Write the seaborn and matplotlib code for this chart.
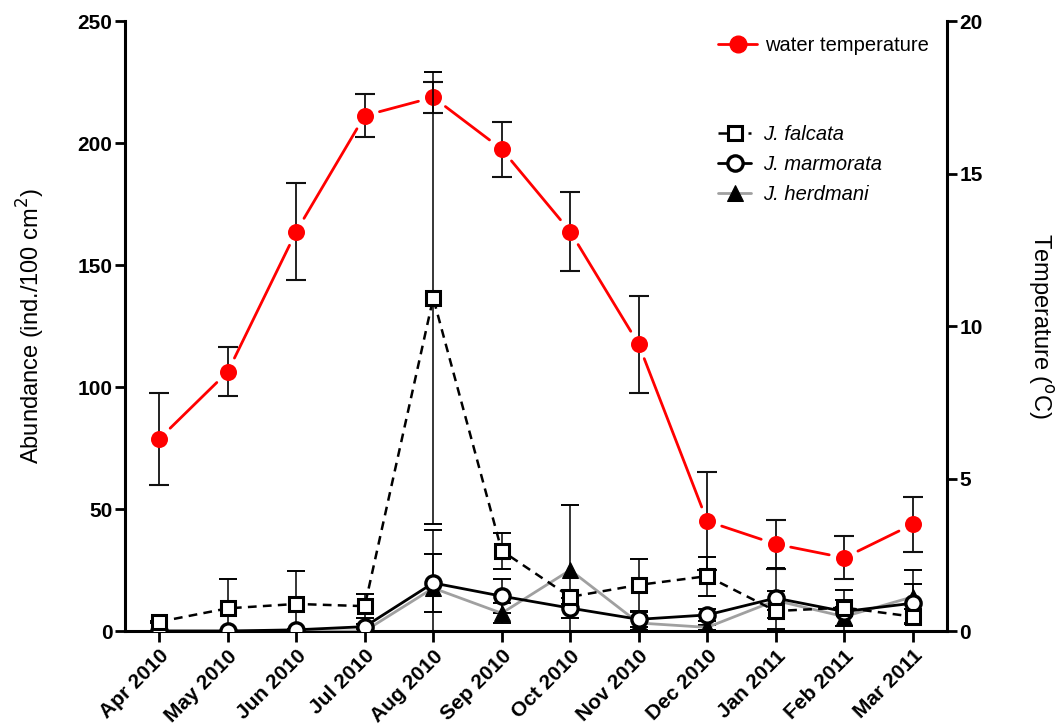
import numpy as np
import matplotlib
matplotlib.use("Agg")
import matplotlib.pyplot as plt
import seaborn as sns
import pandas as pd

# months sampled
months = ["Apr 2010", "May 2010", "Jun 2010", "Jul 2010", "Aug 2010", "Sep 2010",
          "Oct 2010", "Nov 2010", "Dec 2010", "Jan 2011", "Feb 2011", "Mar 2011"]

# water temperature (deg C) and SD
temp = [6.3, 8.5, 13.1, 16.9, 17.5, 15.8, 13.1, 9.4, 3.6, 2.85, 2.4, 3.5]
temp_sd = [1.5, 0.8, 1.6, 0.7, 0.5, 0.9, 1.3, 1.6, 1.6, 0.8, 0.7, 0.9]

# abundances (ind./100 cm2) and SD
falcata = [3.8, 9.3, 11.1, 10.2, 136.5, 32.9, 14.0, 18.9, 22.5, 8.2, 9.6, 5.9]
falcata_sd = [0.5, 12.0, 13.6, 5.0, 92.5, 7.3, 3.0, 10.8, 8.0, 3.0, 3.0, 3.0]
marmorata = [0.0, 0.0, 0.5, 1.8, 19.7, 14.3, 9.4, 4.8, 6.6, 13.5, 8.0, 11.4]
marmorata_sd = [0.0, 0.0, 0.5, 1.0, 11.7, 7.0, 4.0, 3.0, 2.5, 12.5, 9.0, 8.0]
herdmani = [0.0, 0.0, 0.0, 0.0, 17.6, 7.3, 25.0, 3.3, 1.5, 12.5, 5.9, 14.0]
herdmani_sd = [0.0, 0.0, 0.0, 0.0, 24.0, 4.0, 26.6, 3.0, 1.0, 4.0, 4.0, 11.0]

sns.set_style("ticks", {'axes.edgecolor': 'black', 'xtick.color': 'black',
                        'ytick.color': 'black', 'text.color': 'black',
                        'axes.labelcolor': 'black'})
plt.rcParams['font.family'] = ['Liberation Sans', 'DejaVu Sans']

x = np.arange(len(months))
df = pd.DataFrame({'x': x, 'temp': temp, 'falcata': falcata,
                   'marmorata': marmorata, 'herdmani': herdmani})

fig = plt.figure(figsize=(10.61, 7.27), dpi=100)
ax = fig.add_axes([0.1178, 0.132, 0.7747, 0.839])
ax2 = ax.twinx()

# species on left axis
err_kw = dict(fmt='none', ecolor='black', elinewidth=1.1, capsize=6.5, capthick=1.4)
ax.errorbar(x, falcata, yerr=falcata_sd, zorder=2, **err_kw)
ax.errorbar(x, marmorata, yerr=marmorata_sd, zorder=2, **err_kw)
ax.errorbar(x, herdmani, yerr=herdmani_sd, zorder=2, **err_kw)

sns.lineplot(data=df, x='x', y='herdmani', ax=ax, color='#a0a0a0', lw=2,
             marker='^', markersize=11, markerfacecolor='black', markeredgecolor='black',
             label='J. herdmani', zorder=3)
sns.lineplot(data=df, x='x', y='marmorata', ax=ax, color='black', lw=2,
             marker='o', markersize=11, markerfacecolor='white', markeredgecolor='black',
             markeredgewidth=2.4, label='J. marmorata', zorder=4)
sns.lineplot(data=df, x='x', y='falcata', ax=ax, color='black', lw=1.8,
             dashes=(3.5, 2.5), marker='s', markersize=10.5, markerfacecolor='white',
             markeredgecolor='black', markeredgewidth=2.2, label='J. falcata', zorder=5)

# temperature on right axis: segments stop short of each dot
for i in range(len(x) - 1):
    ax2.annotate('', xy=(x[i + 1], temp[i + 1]), xytext=(x[i], temp[i]),
                 arrowprops=dict(arrowstyle='-', color='red', lw=2,
                                 shrinkA=11, shrinkB=11), zorder=2)
ax2.errorbar(x, temp, yerr=temp_sd, fmt='none', ecolor='#111111', elinewidth=1.3,
             capsize=7, capthick=1.5, zorder=4)
sns.scatterplot(data=df, x='x', y='temp', ax=ax2, color='red', s=150,
                edgecolor='red', linewidth=0, zorder=5)
h_temp, = ax2.plot([], [], color='red', lw=2, marker='o', ms=12, label='water temperature')

ax.set_xlim(-0.5, 11.5)
ax.set_ylim(0, 250)
ax2.set_ylim(0, 20)
ax.set_yticks([0, 50, 100, 150, 200, 250])
ax2.set_yticks([0, 5, 10, 15, 20])
ax.set_xticks(x)
ax.set_xticklabels(months, rotation=45, ha='right', rotation_mode='anchor',
                   fontsize=15, fontweight='bold')
for lab in ax.get_yticklabels() + ax2.get_yticklabels():
    lab.set_fontsize(15)
    lab.set_fontweight('bold')

ax.set_xlabel('')
ax2.set_xlabel('')
ax.set_ylabel('Abundance (ind./100 cm$^2$)', fontsize=17, labelpad=22)
ax2.set_ylabel('Temperature ($^{\\rm o}$C)', fontsize=17, rotation=270, labelpad=52)

for a in (ax, ax2):
    a.spines['top'].set_visible(False)
    for s in a.spines.values():
        s.set_linewidth(2.2)
    a.tick_params(width=2, length=7, direction='out', pad=2)
ax.spines['right'].set_visible(False)
ax2.spines['left'].set_visible(False)
ax2.spines['bottom'].set_visible(False)
ax.tick_params(axis='x', length=8, pad=3)

# legends
ax2.legend(handles=[h_temp], loc='upper left', bbox_to_anchor=(0.7, 1.005),
           frameon=False, fontsize=14.5, handlelength=1.9, handletextpad=0.4)
order = ['J. falcata', 'J. marmorata', 'J. herdmani']
hs, ls = ax.get_legend_handles_labels()
hmap = dict(zip(ls, hs))
ax.legend([hmap[k] for k in order], order, loc='upper left',
          bbox_to_anchor=(0.7, 0.86), frameon=False,
          handlelength=1.6, handletextpad=0.6, labelspacing=0.55,
          prop={'style': 'italic', 'size': 14.5})
ax.set_zorder(ax2.get_zorder() + 1)
ax.patch.set_visible(False)

fig.savefig('out.png', dpi=100)
